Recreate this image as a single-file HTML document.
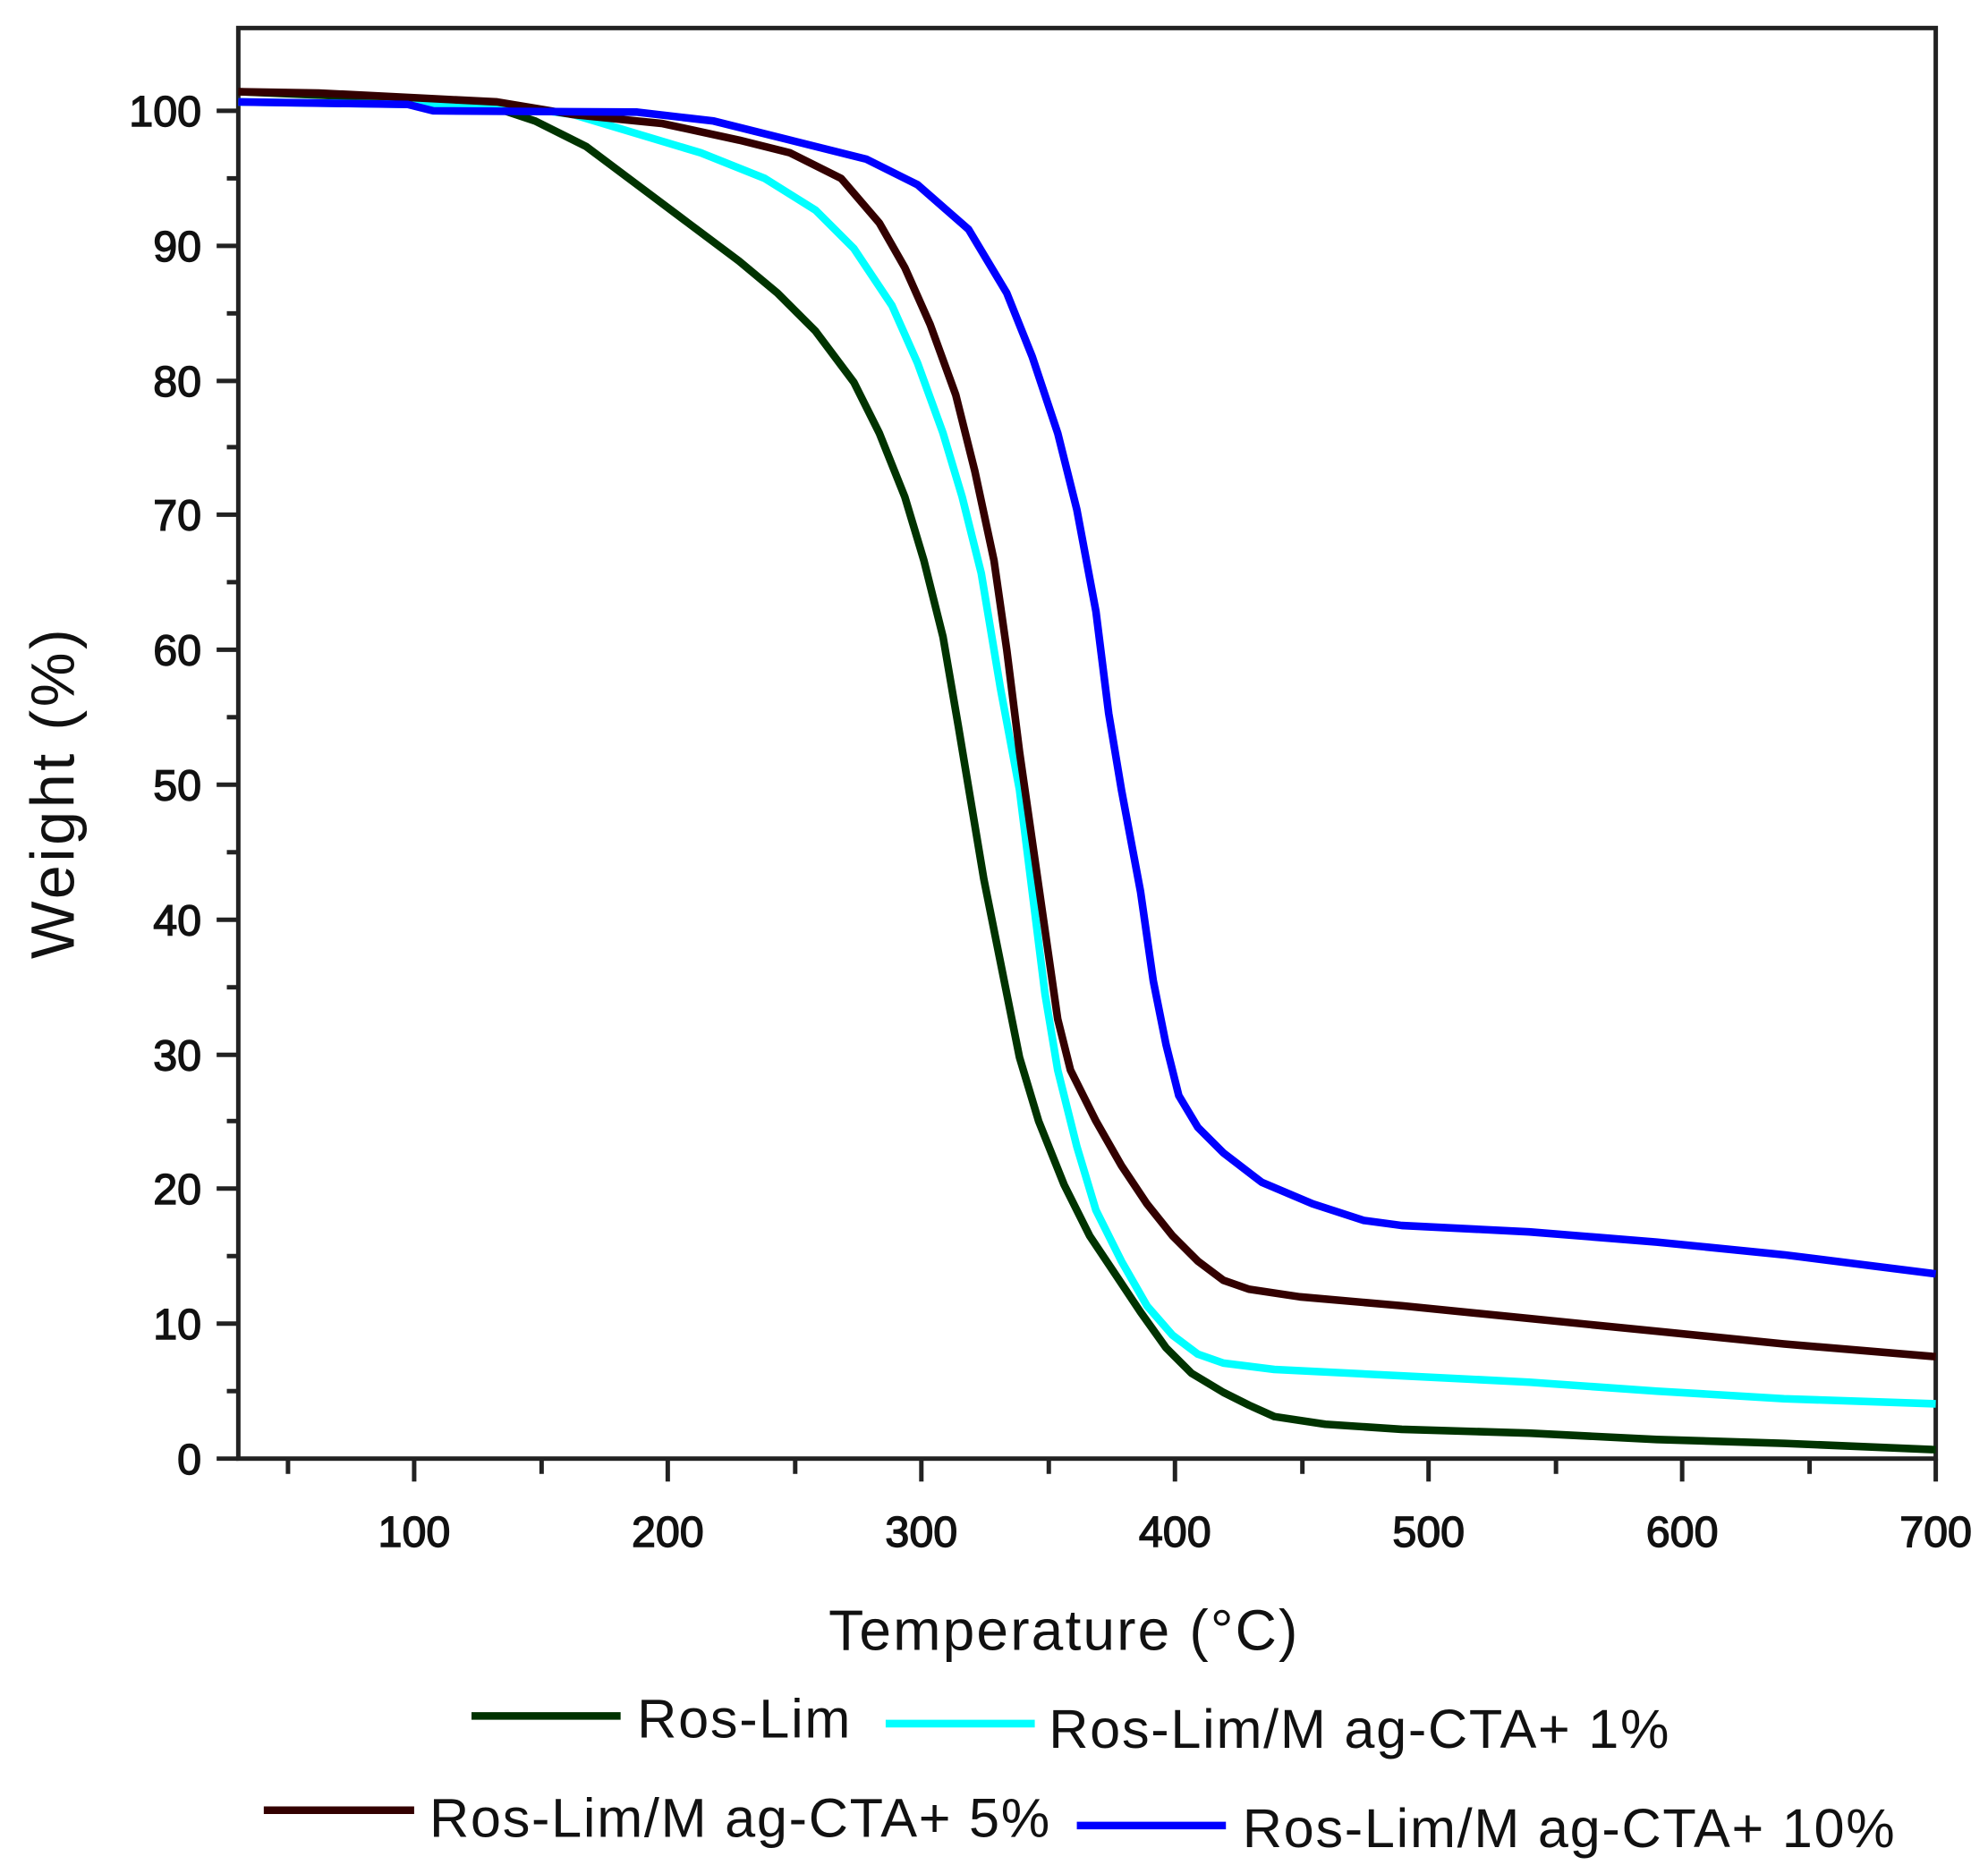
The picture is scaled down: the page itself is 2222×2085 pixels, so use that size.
<!DOCTYPE html>
<html><head><meta charset="utf-8"><style>
html,body{margin:0;padding:0;background:#fff;}
svg{display:block;}
text{font-family:"Liberation Sans",Arial,sans-serif;fill:#111;}
</style></head><body>
<svg width="2222" height="2085" viewBox="0 0 1560 1464" preserveAspectRatio="none" xmlns="http://www.w3.org/2000/svg">
<rect x="0" y="0" width="1560" height="1464" fill="#fff"/>
<rect x="187" y="22" width="1332" height="1123" fill="none" stroke="#222" stroke-width="3.5"/>
<g stroke="#222" stroke-width="3.5">
<line x1="325" y1="1145" x2="325" y2="1163"/><line x1="524" y1="1145" x2="524" y2="1163"/>
<line x1="723" y1="1145" x2="723" y2="1163"/><line x1="922" y1="1145" x2="922" y2="1163"/>
<line x1="1121" y1="1145" x2="1121" y2="1163"/><line x1="1320" y1="1145" x2="1320" y2="1163"/>
<line x1="1519" y1="1145" x2="1519" y2="1163"/>
<line x1="226" y1="1145" x2="226" y2="1157"/><line x1="425" y1="1145" x2="425" y2="1157"/>
<line x1="624" y1="1145" x2="624" y2="1157"/><line x1="823" y1="1145" x2="823" y2="1157"/>
<line x1="1022" y1="1145" x2="1022" y2="1157"/><line x1="1221" y1="1145" x2="1221" y2="1157"/>
<line x1="1420" y1="1145" x2="1420" y2="1157"/>
<line x1="170" y1="1145" x2="187" y2="1145"/><line x1="170" y1="1039" x2="187" y2="1039"/>
<line x1="170" y1="933" x2="187" y2="933"/><line x1="170" y1="828" x2="187" y2="828"/>
<line x1="170" y1="722" x2="187" y2="722"/><line x1="170" y1="616" x2="187" y2="616"/>
<line x1="170" y1="510" x2="187" y2="510"/><line x1="170" y1="404" x2="187" y2="404"/>
<line x1="170" y1="299" x2="187" y2="299"/><line x1="170" y1="193" x2="187" y2="193"/>
<line x1="170" y1="87" x2="187" y2="87"/>
<line x1="178" y1="1092" x2="187" y2="1092"/><line x1="178" y1="986" x2="187" y2="986"/>
<line x1="178" y1="880" x2="187" y2="880"/><line x1="178" y1="775" x2="187" y2="775"/>
<line x1="178" y1="669" x2="187" y2="669"/><line x1="178" y1="563" x2="187" y2="563"/>
<line x1="178" y1="457" x2="187" y2="457"/><line x1="178" y1="351" x2="187" y2="351"/>
<line x1="178" y1="246" x2="187" y2="246"/><line x1="178" y1="140" x2="187" y2="140"/>
</g>
<g font-size="34" text-anchor="end" stroke="#111" stroke-width="1">
<text x="158" y="1157">0</text><text x="158" y="1051">10</text><text x="158" y="945">20</text>
<text x="158" y="840">30</text><text x="158" y="734">40</text><text x="158" y="628">50</text>
<text x="158" y="522">60</text><text x="158" y="416">70</text><text x="158" y="311">80</text>
<text x="158" y="205">90</text><text x="158" y="99">100</text>
</g>
<g font-size="34" text-anchor="middle" stroke="#111" stroke-width="1">
<text x="325" y="1214">100</text><text x="524" y="1214">200</text><text x="723" y="1214">300</text>
<text x="922" y="1214">400</text><text x="1121" y="1214">500</text><text x="1320" y="1214">600</text>
<text x="1519" y="1214">700</text>
</g>
<text x="835" y="1295" font-size="45" letter-spacing="1.5" text-anchor="middle">Temperature (°C)</text>
<text transform="translate(58,622) rotate(-90)" font-size="48" letter-spacing="2.5" text-anchor="middle">Weight (%)</text>
<g fill="none" stroke-width="6" stroke-linejoin="round">
<polyline stroke="#003300" points="187,72 330,78 390,85 420,95 460,115 500,145 540,175 580,205 610,230 640,260 670,300 690,340 710,390 725,440 740,500 752,570 762,630 772,690 786,760 800,830 815,880 835,930 855,970 875,1000 895,1030 915,1058 935,1078 960,1093 980,1103 1000,1112 1040,1118 1100,1122 1200,1125 1300,1130 1400,1133 1519,1138"/>
<polyline stroke="#00ffff" points="187,80 400,83 450,90 500,105 550,120 600,140 640,165 670,195 700,240 720,285 740,340 755,390 770,450 785,540 800,620 810,700 820,780 830,840 845,900 860,950 880,990 900,1025 920,1048 940,1063 960,1070 1000,1075 1100,1080 1200,1085 1300,1092 1400,1098 1519,1102"/>
<polyline stroke="#330000" points="187,72 250,73 330,77 390,80 450,90 520,97 580,110 620,120 660,140 690,175 710,210 730,255 750,310 765,370 780,440 790,510 800,590 810,660 820,730 830,800 840,840 860,880 880,915 900,945 920,970 940,990 960,1005 980,1012 1020,1018 1100,1025 1200,1035 1300,1045 1400,1055 1519,1065"/>
<polyline stroke="#0000ff" points="187,80 320,82 340,87 500,88 560,95 620,110 680,125 720,145 760,180 790,230 810,280 830,340 845,400 860,480 870,560 880,620 895,700 905,770 915,820 925,860 940,885 960,905 990,928 1030,945 1070,958 1100,962 1200,967 1300,975 1400,985 1519,1000"/>
<line x1="370" y1="1347" x2="487" y2="1347" stroke="#003300"/>
<line x1="695" y1="1353" x2="812" y2="1353" stroke="#00ffff"/>
<line x1="207" y1="1421" x2="325" y2="1421" stroke="#330000"/>
<line x1="845" y1="1433" x2="962" y2="1433" stroke="#0000ff"/>
</g>
<g font-size="43" letter-spacing="1.2">
<text x="500" y="1364">Ros-Lim</text>
<text x="823" y="1372">Ros-Lim/M ag-CTA+ 1%</text>
<text x="337" y="1442">Ros-Lim/M ag-CTA+ 5%</text>
<text x="975" y="1450">Ros-Lim/M ag-CTA+ 10%</text>
</g>
</svg>
</body></html>
